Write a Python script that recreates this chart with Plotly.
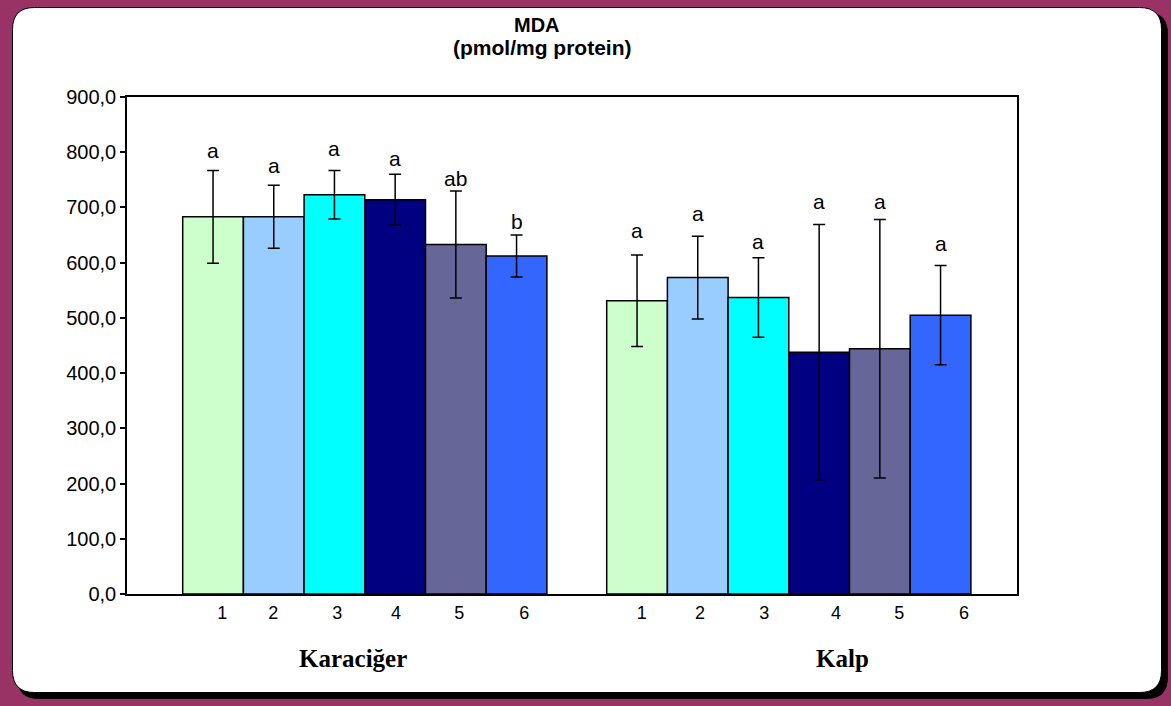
import plotly.graph_objects as go

# ---------------- data ----------------
groups = ["Karaciğer", "Kalp"]
series_labels = ["1", "2", "3", "4", "5", "6"]
karaciger_mean = [683, 683, 723, 714, 633, 612]
karaciger_err = [84, 57, 44, 46, 97, 38]
kalp_mean = [531, 573, 537, 438, 444, 505]
kalp_err = [83, 75, 72, 231, 234, 90]
karaciger_letters = ["a", "a", "a", "a", "ab", "b"]
kalp_letters = ["a", "a", "a", "a", "a", "a"]
y_ticks = [0, 100, 200, 300, 400, 500, 600, 700, 800, 900]

# ---------------- style / layout ----------------
colors = ["#CCFFCC", "#99CCFF", "#00FFFF", "#000080", "#666699", "#3366FF"]
W, H = 1171, 706
L, R, T, B = 127, 1017, 97, 594          # plot area in pixels
unit = 60.7                               # bar width in px
x_max = (R - L) / unit
group_start = [(182.7 - L) / unit, (606.7 - L) / unit]
tick_label_px = [222.3, 273.3, 337.3, 396, 459.3, 524.3,
                 641.7, 700, 764.3, 836, 899.3, 964]
letter_shift = [[6, 6, 8, 2, -1, 0], [11, 9, 3, 10, 5, 8]]

def px2paper(x, y):
    return (x - L) / (R - L), (B - y) / (B - T)

def rounded_path(x0, y0, x1, y1, r):
    pts = [("M", (x0 + r, y0)), ("L", (x1 - r, y0)), ("Q", (x1, y0), (x1, y0 + r)),
           ("L", (x1, y1 - r)), ("Q", (x1, y1), (x1 - r, y1)),
           ("L", (x0 + r, y1)), ("Q", (x0, y1), (x0, y1 - r)),
           ("L", (x0, y0 + r)), ("Q", (x0, y0), (x0 + r, y0))]
    s = ""
    for item in pts:
        cmd = item[0]
        coords = []
        for p in item[1:]:
            px, py = px2paper(*p)
            coords.append(f"{px:.5f},{py:.5f}")
        s += cmd + " " + " ".join(coords) + " "
    return s + "Z"

fig = go.Figure()

means = [karaciger_mean, kalp_mean]
errs = [karaciger_err, kalp_err]
for i, lab in enumerate(series_labels):
    xs = [group_start[g] + i + 0.5 for g in range(2)]
    fig.add_trace(go.Bar(
        x=xs, y=[means[g][i] for g in range(2)], width=1.0,
        name=lab,
        marker=dict(color=colors[i], line=dict(color="black", width=1.5)),
        error_y=dict(type="data", array=[errs[g][i] for g in range(2)],
                     visible=True, color="black", thickness=1.5, width=6),
        showlegend=False,
    ))

annotations = []
letters = [karaciger_letters, kalp_letters]
for g in range(2):
    for i in range(6):
        annotations.append(dict(
            x=group_start[g] + i + 0.5, y=means[g][i] + errs[g][i],
            xref="x", yref="y", text=letters[g][i], showarrow=False,
            yanchor="bottom", yshift=letter_shift[g][i],
            font=dict(family="Liberation Sans, Arial", size=21, color="black")))

# titles
tx, ty = px2paper(537, 25)
annotations.append(dict(x=tx, y=ty, xref="paper", yref="paper", text="<b>MDA</b>",
                        showarrow=False, xanchor="center", yanchor="middle",
                        font=dict(family="Liberation Sans, Arial", size=20, color="black")))
tx, ty = px2paper(542, 47)
annotations.append(dict(x=tx, y=ty, xref="paper", yref="paper", text="<b>(pmol/mg protein)</b>",
                        showarrow=False, xanchor="center", yanchor="middle",
                        font=dict(family="Liberation Sans, Arial", size=21, color="black")))
# group labels
for gx, name in zip([353, 842], groups):
    px, py = px2paper(gx, 658)
    annotations.append(dict(x=px, y=py, xref="paper", yref="paper", text=f"<b>{name}</b>",
                            showarrow=False, xanchor="center", yanchor="middle",
                            font=dict(family="Liberation Serif, Times New Roman", size=25,
                                      color="black")))

shapes = [
    dict(type="path", xref="paper", yref="paper", layer="below",
         path=rounded_path(17, 12, 1168, 699, 22), fillcolor="black",
         line=dict(width=0)),
    dict(type="path", xref="paper", yref="paper", layer="below",
         path=rounded_path(12.5, 7.5, 1161.5, 692.5, 22), fillcolor="white",
         line=dict(color="black", width=1)),
]

fig.update_layout(
    width=W, height=H, autosize=False,
    margin=dict(l=L, r=W - R, t=T, b=H - B, pad=0),
    paper_bgcolor="#993366", plot_bgcolor="white",
    separators=",.",
    barmode="overlay",
    annotations=annotations, shapes=shapes,
    font=dict(family="Liberation Sans, Arial", color="black"),
    xaxis=dict(range=[0, x_max], showgrid=False, zeroline=False,
               showline=True, linecolor="black", linewidth=1.5, mirror=True,
               tickmode="array",
               tickvals=[(p - L) / unit for p in tick_label_px],
               ticktext=series_labels * 2, ticks="",
               ticklabelstandoff=2,
               tickfont=dict(size=18, family="Liberation Sans, Arial", color="black")),
    yaxis=dict(range=[0, 900], tickmode="array", tickvals=y_ticks, tickformat=".1f",
               showgrid=False, zeroline=False, showline=True, linecolor="black",
               linewidth=1.5, mirror=True, ticks="outside", ticklen=5,
               tickcolor="black", tickwidth=1.5,
               tickfont=dict(size=20, family="Liberation Sans, Arial", color="black")),
)

fig.write_html(
    "out.html",
    config={"displayModeBar": False},
    post_script="document.body.style.margin='0';document.body.style.overflow='hidden';"
                "document.body.style.background='#993366';",
)
